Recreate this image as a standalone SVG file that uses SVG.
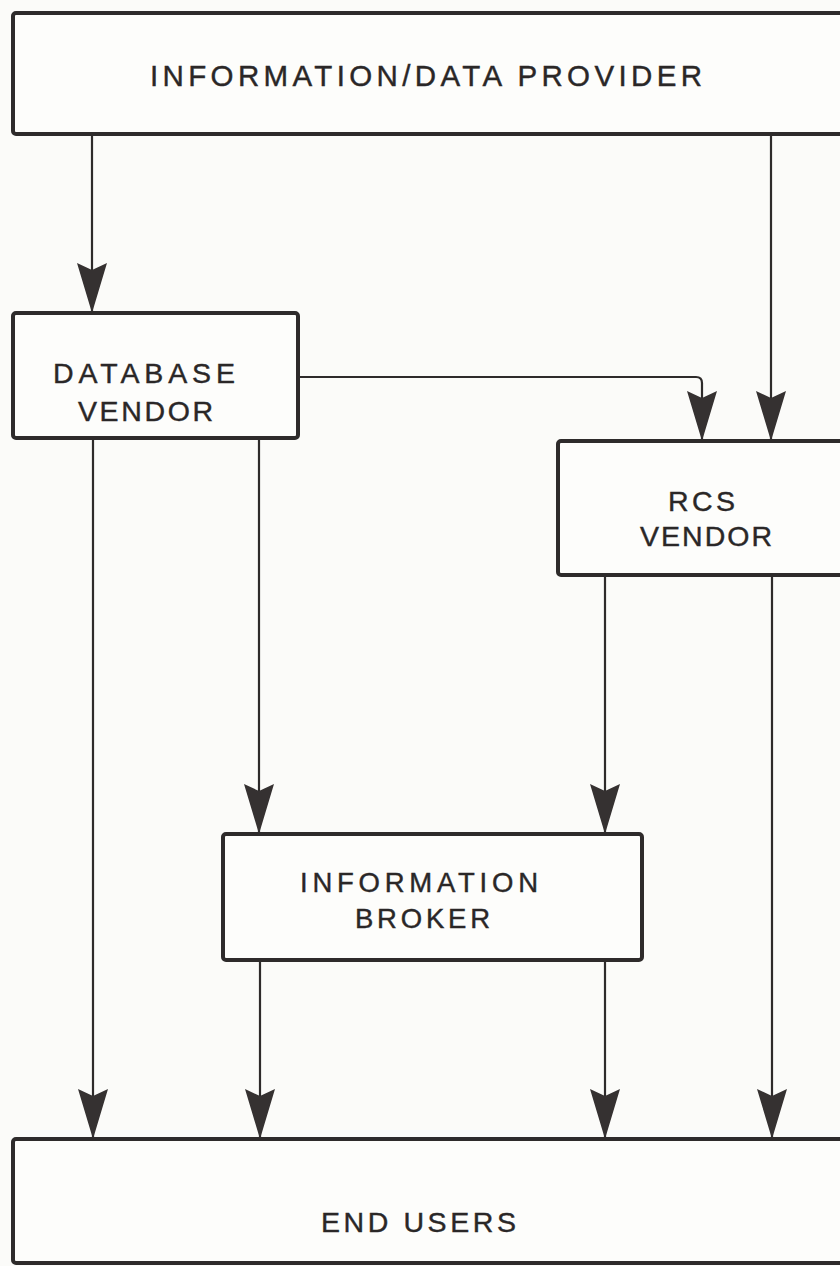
<svg xmlns="http://www.w3.org/2000/svg" width="840" height="1266" viewBox="0 0 840 1266">
<defs>
<style>
.box{fill:#fdfdfb;stroke:#2e2b2b;stroke-width:4}
.lbl{font-family:"Liberation Sans",Arial,sans-serif;fill:#2a2727;stroke:#2a2727;stroke-width:0.4;text-anchor:middle}
.conn{fill:none;stroke:#2e2b2b;stroke-width:2.2}
</style>
<marker id="ah" markerUnits="userSpaceOnUse" markerWidth="52" markerHeight="32" viewBox="0 0 52 32" refX="50" refY="15.5" orient="auto">
<path d="M0,0.5 L7,15.5 L0,30.5 L50,15.5 Z" fill="#353131"/>
</marker>
</defs>
<rect width="840" height="1266" fill="#fbfbf9"/>
<g id="connectors" class="conn">
<path d="M92,134 V313" marker-end="url(#ah)"/>
<path d="M771,134 V441" marker-end="url(#ah)"/>
<path d="M298,377 H696 Q702,377 702,383 V441" marker-end="url(#ah)"/>
<path d="M93,438 V1139" marker-end="url(#ah)"/>
<path d="M259,438 V834" marker-end="url(#ah)"/>
<path d="M605,575 V834" marker-end="url(#ah)"/>
<path d="M772,575 V1139" marker-end="url(#ah)"/>
<path d="M260,960 V1139" marker-end="url(#ah)"/>
<path d="M605,960 V1139" marker-end="url(#ah)"/>
</g>
<g id="provider">
<rect class="box" x="13" y="13" width="850" height="121" rx="3"/>
<text class="lbl" x="426" y="86" font-size="29.5" textLength="552" lengthAdjust="spacing">INFORMATION/DATA PROVIDER</text>
</g>
<g id="database-vendor">
<rect class="box" x="13" y="313" width="285" height="125" rx="3"/>
<text class="lbl" x="144" y="383" font-size="28.5" textLength="182" lengthAdjust="spacing">DATABASE</text>
<text class="lbl" x="145.5" y="421" font-size="28.5" textLength="135" lengthAdjust="spacing">VENDOR</text>
</g>
<g id="rcs-vendor">
<rect class="box" x="558" y="441" width="300" height="134" rx="3"/>
<text class="lbl" x="701.5" y="511" font-size="28.5" textLength="67" lengthAdjust="spacing">RCS</text>
<text class="lbl" x="706" y="546" font-size="28.5" textLength="132" lengthAdjust="spacing">VENDOR</text>
</g>
<g id="information-broker">
<rect class="box" x="223" y="834" width="419" height="126" rx="3"/>
<text class="lbl" x="419" y="892" font-size="27.5" textLength="238" lengthAdjust="spacing">INFORMATION</text>
<text class="lbl" x="422.5" y="928" font-size="27.5" textLength="135" lengthAdjust="spacing">BROKER</text>
</g>
<g id="end-users">
<rect class="box" x="13" y="1139" width="850" height="124" rx="3"/>
<text class="lbl" x="418.5" y="1232" font-size="28.5" textLength="195" lengthAdjust="spacing">END USERS</text>
</g>
</svg>
